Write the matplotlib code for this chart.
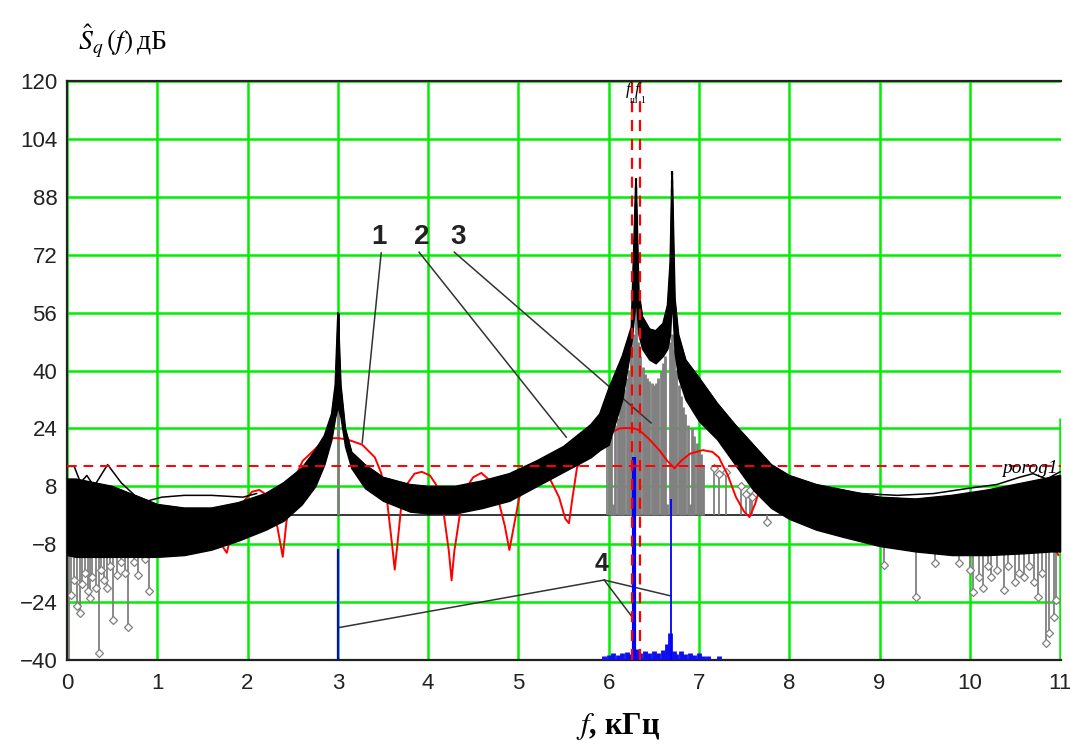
import matplotlib
matplotlib.use('Agg')
import matplotlib.pyplot as plt

plt.rcParams['font.family'] = ['Liberation Sans', 'DejaVu Sans']
plt.rcParams['mathtext.fontset'] = 'stix'

# ---- data (f in kHz, S in dB) ----
# black band of the estimated spectrum: upper / lower edges
band_f = [0.0, 0.1, 0.3, 0.5, 0.8, 1.0, 1.3, 1.6, 1.9, 2.2, 2.4, 2.6, 2.75, 2.85, 2.93,
          2.97, 3.0, 3.03, 3.08, 3.15, 3.3, 3.5, 3.8, 4.0, 4.3, 4.6, 4.9, 5.2, 5.5, 5.8,
          5.9, 6.0, 6.15, 6.25, 6.3, 6.33, 6.37, 6.45, 6.52, 6.6, 6.65, 6.68, 6.7, 6.73, 6.77,
          6.85, 7.0, 7.2, 7.4, 7.6, 7.8, 8.0, 8.3, 8.6, 9.0, 9.4, 9.8, 10.2, 10.6, 10.9, 11.0]
band_hi = [10, 10, 9, 8, 5, 3, 2, 2, 3.5, 6, 9, 13, 18, 22, 28,
           36, 56, 36, 24, 17.5, 14, 10.5, 8.5, 8, 8, 9.5, 11.5, 15, 19, 25,
           28, 35, 44, 52, 93, 62, 55, 51.5, 51, 53, 58, 70, 95, 60, 50,
           43, 38, 31, 25, 19.5, 14, 11, 8.5, 7, 5, 4.5, 5.5, 7, 9, 10.5, 11]
band_lo = [-11, -11.5, -11.5, -11.5, -11.5, -11.5, -11, -9.5, -7, -4, -1.5, 3, 8, 14, 21,
           27, 30, 27, 19, 13, 7.5, 4, 1, 0.5, 0.5, 2, 4, 8, 12, 16,
           18, 19.5, 32, 47, 60, 50, 46, 43, 42, 44, 46, 50, 60, 45, 38,
           32, 26, 21, 14, 7, 2, -1, -4, -6, -8.5, -10, -11, -11, -10.5, -10, -10]

# thin black traces sticking out above the band
trace1_f = [0.0, 0.08, 0.15, 0.22, 0.3, 0.45, 0.6, 0.75, 0.9, 1.05, 1.3, 1.6, 1.95, 2.1]
trace1_s = [13.5, 13.5, 9, 11, 8, 14, 9, 5.5, 4, 5, 5.5, 5.5, 5, 6]
trace2_f = [8.4, 8.8, 9.2, 9.6, 10.0, 10.3, 10.55, 10.7, 10.85, 11.0]
trace2_s = [6.5, 6, 5.5, 6, 7.5, 8.5, 10.5, 11.5, 10, 12]

# red curve (theoretical spectrum)
red_f = [1.0, 1.2, 1.39, 1.55, 1.77, 1.85, 1.97, 2.05, 2.13, 2.22, 2.33, 2.39, 2.43, 2.5,
         2.61, 2.77, 2.88, 3.0, 3.1, 3.27, 3.41, 3.48, 3.55, 3.6, 3.63, 3.66, 3.7, 3.76,
         3.85, 3.93, 4.02, 4.09, 4.17, 4.23, 4.26, 4.29, 4.35, 4.42, 4.5, 4.59, 4.71, 4.78,
         4.85, 4.9, 4.95, 5.01, 5.1, 5.23, 5.35, 5.45, 5.52, 5.56, 5.6, 5.65, 5.75, 5.86,
         6.0, 6.12, 6.19, 6.28, 6.34, 6.45, 6.56, 6.65, 6.73, 6.8, 6.9, 7.04, 7.15, 7.22,
         7.32, 7.41, 7.5, 7.56, 7.62, 7.67, 7.8, 7.95, 8.1, 8.2, 8.3, 8.4, 8.55, 8.7, 8.85,
         8.95, 9.05, 9.25, 9.4, 9.55, 9.7, 9.9, 10.05, 10.2, 10.35, 10.55, 10.7, 10.85, 10.98]
red_s = [-2, -1, 1.0, -2, -10.4, -2, 4.2, 6.5, 7, 5.5, -3.2, -11.5, -2, 8.9,
         15, 18.8, 21.3, 21.3, 21, 19.5, 16, 11.7, 3, -8, -15, -8, 2, 8.4,
         11.5, 12, 11, 8.4, 1, -10, -18, -10, 0, 7.5, 10.5, 11.7, 9, 4,
         -3, -9.6, -3, 5, 10, 12, 10, 5, -1, -2.2, 5, 13.3, 17, 19.4,
         22.5, 24, 24.1, 24, 23.5, 21, 18, 15, 13, 15, 17, 18, 17.5, 16,
         11, 5, 1, -0.5, 3, 7, 9, 10, 8, 2, -3, 3, 6, 5, 0,
         -6, 2, 4.2, 2, -5, 1, 3, 1, -6, 0, 3, 1, -4, -11]

# grey stems (measured spectrum lines): dense block, then sparse ones with diamonds
gray_f = [6.0, 6.025, 6.05, 6.075, 6.1, 6.125, 6.15, 6.175, 6.2, 6.225, 6.25, 6.275,
          6.3, 6.325, 6.35, 6.375, 6.4, 6.425, 6.45, 6.475, 6.5, 6.525, 6.55, 6.575,
          6.6, 6.625, 6.65, 6.675, 6.7, 6.725, 6.75, 6.775, 6.8, 6.825, 6.85, 6.875,
          6.9, 6.925, 6.95, 6.975, 7.0, 7.025, 7.05, 3.0]
gray_s = [20, 22, 3, 25, 27, 30, 33, 35, 38, 40, 44, 50,
          58, 48, 44, 41, 39, 38, 37, 36.5, 36, 36.5, 38, 40,
          42, 44, 3, 48, 50, 46, 40, 36, 33, 30, 28, 25,
          3, 24, 22, 20, 18, 17, 14, 30]
gray_mid_f = [5.98, 6.02, 7.17, 7.22, 7.3, 7.47, 7.52, 7.56, 7.59, 7.75]
gray_mid_s = [21, 24, 13, 11.5, 12, 8, 6, 7, 5, -2]
gray_left_f = [0.02, 0.05, 0.08, 0.11, 0.14, 0.17, 0.2, 0.23, 0.25, 0.28, 0.32, 0.35,
               0.38, 0.41, 0.44, 0.48, 0.51, 0.55, 0.6, 0.64, 0.68, 0.74, 0.79, 0.86, 0.91]
gray_left_s = [-42, -22, -18, -25, -27, -19, -16, -21, -23, -17, -20, -38,
               -15, -18, -20, -14, -29, -16.5, -13, -16, -31, -13, -16.5, -12, -21]
gray_right_f = [9.05, 9.4, 9.61, 9.88, 10.0, 10.04, 10.1, 10.15, 10.2, 10.24, 10.3, 10.38,
                10.42, 10.5, 10.55, 10.6, 10.65, 10.71, 10.76, 10.8, 10.84, 10.88, 10.93, 10.96]
gray_right_s = [-13.8, -22.6, -13.2, -13.2, -15, -21.2, -17, -20, -14, -17, -15, -20.7,
                -14, -18.5, -16, -17, -14, -18.5, -22.6, -16, -35.3, -32.5, -28, -23.4]

# blue lines (detected components) and the blue floor
blue_f = [3.0, 6.28, 6.69]
blue_s = [-9.2, 16.0, 4.5]
blue_w = [1.6, 3.0, 1.3]
floor_f = [5.95, 6.0, 6.05, 6.1, 6.15, 6.2, 6.25, 6.3, 6.35, 6.4, 6.45, 6.5, 6.55,
           6.6, 6.65, 6.68, 6.72, 6.75, 6.8, 6.85, 6.9, 6.95, 7.0, 7.05, 7.1, 7.22]
floor_s = [-39, -38.5, -38.2, -38.6, -38, -37.8, -38.4, -37, -38, -37.6, -38.2, -37.4, -38,
           -37.2, -35.5, -32.5, -37.5, -38.3, -37.6, -38.4, -38, -38.6, -38.2, -38.8, -39, -39]

threshold = 13.5          # "porog1"
f_marks = [6.26, 6.35]    # vertical red dashed markers

# ---- figure ----
fig = plt.figure(figsize=(10.7, 7.44), dpi=100)
ax = fig.add_axes([0.0626, 0.1129, 0.929, 0.7782])
ax.set_xlim(0, 11.01)
ax.set_ylim(-40, 120)
ax.set_xticks(range(12))
ax.set_yticks(range(-40, 121, 16))
ax.tick_params(length=0, labelsize=16, colors='#222222')
ax.tick_params(axis='x', pad=9)
ax.tick_params(axis='y', pad=7)
ax.set_axisbelow(True)
ax.grid(True, color='#00ee00', lw=1.8)
ax.xaxis.get_gridlines()[-1].set_visible(False)
ax.vlines(11.0, -40, 27, color='#00ee00', lw=1.8, zorder=0.5)
for side in ['top', 'left', 'bottom']:
    ax.spines[side].set_color('#222222')
    ax.spines[side].set_linewidth(1.6)
ax.spines['right'].set_visible(False)

ax.axhline(0, color='black', lw=1.1, zorder=1)

# grey stems
ax.vlines(gray_f, 0, gray_s, color='#808080', lw=2.0, zorder=2)
for fs, ss in [(gray_mid_f, gray_mid_s), (gray_left_f, gray_left_s),
               (gray_right_f, gray_right_s)]:
    ax.vlines(fs, 0, ss, color='#808080', lw=1.3, zorder=2)
    ax.plot(fs, ss, 'D', ms=4.4, mfc='white', mec='#808080', mew=0.9, zorder=2.1)

# leader lines for the numbered labels
lead = dict(color='#333333', lw=1.1, zorder=2.5)
ax.plot([3.48, 3.27], [72.5, 20.0], **lead)
ax.plot([3.90, 5.53], [72.7, 21.6], **lead)
ax.plot([4.29, 6.47], [72.7, 25.5], **lead)
for fx, sy in [(3.02, -31.0), (6.26, -28.1), (6.69, -22.3)]:
    ax.plot([5.95, fx], [-17.9, sy], **lead)

ax.plot(red_f, red_s, color='red', lw=1.4, zorder=3)

# black band
ax.fill_between(band_f, band_lo, band_hi, color='black', lw=1.0, zorder=4)
ax.plot(band_f, band_hi, color='black', lw=1.0, zorder=4)
ax.plot(trace1_f, trace1_s, color='black', lw=1.1, zorder=4)
ax.plot(trace2_f, trace2_s, color='black', lw=1.1, zorder=4)
ax.vlines([3.0], 30, 56, color='black', lw=2.0, zorder=4)
ax.vlines([6.3, 6.7], [80, 82], [94, 96], color='black', lw=1.6,
          linestyles=(0, (1.5, 2.5)), zorder=4)

# blue
ax.vlines(floor_f, -40, floor_s, color='#1010ee', lw=3.5, zorder=5)
for fx, sy, w in zip(blue_f, blue_s, blue_w):
    ax.vlines(fx, -40, sy, color='#0000ff', lw=w, zorder=5)

# red dashed threshold and markers
ax.axhline(threshold, color='red', lw=1.4, ls=(0, (5, 3.5)), zorder=6)
for fx in f_marks:
    ax.axvline(fx, color='red', lw=1.6, ls=(0, (5, 3.5)), zorder=6)
ax.text(10.97, threshold - 0.6, 'porog1', style='italic', family='Liberation Serif',
        fontsize=14, ha='right', va='center', zorder=7)
ax.text(6.22, 117.5, 'f', style='italic', family='Liberation Serif', fontsize=12,
        ha='center', va='center', zorder=7)
ax.text(6.32, 117.5, 'f', style='italic', family='Liberation Serif', fontsize=12,
        ha='center', va='center', zorder=7)
ax.text(6.27, 114.6, 'ш', family='Liberation Serif', fontsize=7, ha='center',
        va='center', zorder=7)
ax.text(6.38, 114.6, '1', family='Liberation Serif', fontsize=7, ha='center',
        va='center', zorder=7)

# numbered labels
for txt, fx, sy, sz in [('1', 3.46, 77, 20), ('2', 3.93, 77, 20), ('3', 4.33, 77, 20),
                        ('4', 5.92, -13.5, 18)]:
    ax.text(fx, sy, txt, fontsize=sz, fontweight='bold', color='#222222',
            ha='center', va='center', zorder=7)

# axis labels
fig.text(0.073, 0.944, r'$\hat{S}_q\,(f)\,$дБ', fontsize=20, family='Liberation Serif',
         ha='left', va='center')
fig.text(0.578, 0.024, r'$f$, кГц', fontsize=22, family='Liberation Serif',
         fontweight='bold', ha='center', va='center')

fig.savefig('out.png', dpi=100)
